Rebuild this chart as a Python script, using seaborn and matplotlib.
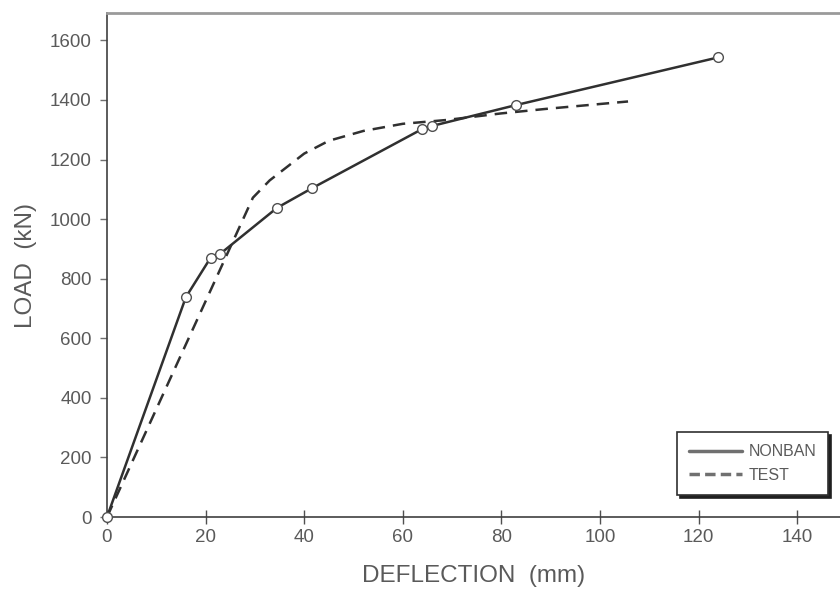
import numpy as np
import pandas as pd
import matplotlib
matplotlib.use("Agg")
import matplotlib.pyplot as plt
import seaborn as sns
from matplotlib.lines import Line2D

# ---- data ----
nonban_deflection = [0, 16, 21, 23, 34.5, 41.5, 64, 66, 83, 124]
nonban_load = [0, 738, 870, 884, 1038, 1103, 1303, 1313, 1383, 1543]

test_deflection = [0, 29.6, 33, 40, 45, 52, 60, 69, 80, 89, 105.7]
test_load = [0, 1072, 1130, 1220, 1263, 1296, 1320, 1333, 1355, 1370, 1395]

x_ticks = [0, 20, 40, 60, 80, 100, 120, 140]
y_ticks = [0, 200, 400, 600, 800, 1000, 1200, 1400, 1600]
series_names = ["NONBAN", "TEST"]

df_nonban = pd.DataFrame({"DEFLECTION": nonban_deflection, "LOAD": nonban_load})
df_test = pd.DataFrame({"DEFLECTION": test_deflection, "LOAD": test_load})

sns.set_theme(style="white")
plt.rcParams["font.family"] = ["Liberation Sans", "DejaVu Sans"]

text_col = "#5a5a5a"
line_col = "#303030"

fig = plt.figure(figsize=(8.4, 5.92), dpi=100)
ax = fig.add_axes([107 / 840, (592 - 517) / 592, (840 - 107) / 840, (517 - 13) / 592])

sns.lineplot(data=df_test, x="DEFLECTION", y="LOAD", ax=ax, color=line_col,
             linewidth=1.8, dashes=False, sort=False, linestyle=(0, (5, 3.2)))
sns.lineplot(data=df_nonban, x="DEFLECTION", y="LOAD", ax=ax, color=line_col,
             linewidth=1.8, marker="o", markersize=7, markerfacecolor="white",
             markeredgecolor="#505050", markeredgewidth=1.0, sort=False,
             clip_on=False, zorder=5)

ax.set_xlim(0, 148.7)
ax.set_ylim(0, 1692)
ax.set_xticks(x_ticks)
ax.set_yticks(y_ticks)
ax.set_xticklabels([str(v) for v in x_ticks])
ax.set_yticklabels([str(v) for v in y_ticks])

for side in ["left", "bottom", "top"]:
    ax.spines[side].set_visible(True)
    ax.spines[side].set_color("#404040")
    ax.spines[side].set_linewidth(1.2)
    ax.spines[side].set_zorder(2)
ax.spines["top"].set_color("#9a9a9a")
ax.spines["top"].set_linewidth(2.0)
ax.spines["right"].set_visible(False)

ax.tick_params(axis="x", direction="inout", length=10, width=1.0, colors="#505050",
               labelcolor=text_col, labelsize=13.5, pad=4)
ax.tick_params(axis="y", direction="out", length=5, width=1.0, colors="#707070",
               labelcolor=text_col, labelsize=13.5, pad=6)
ax.tick_params(bottom=True, left=True)

ax.set_xlabel("DEFLECTION  (mm)", fontsize=17.5, color=text_col, labelpad=13)
ax.set_ylabel("LOAD  (kN)", fontsize=17.5, color=text_col, labelpad=9)

handles = [Line2D([0], [0], color="#707070", linewidth=2.5),
           Line2D([0], [0], color="#707070", linewidth=2.5, linestyle=(0, (3, 1.5)))]
leg = ax.legend(handles, series_names, loc="lower right",
                bbox_to_anchor=(828 / 840, (592 - 495) / 592),
                bbox_transform=fig.transFigure, frameon=True, fancybox=False,
                shadow={"ox": 2, "oy": -2, "color": "#202020", "alpha": 1.0},
                fontsize=11.5, handlelength=3.3, borderpad=0.75, labelspacing=0.55,
                handletextpad=0.4, borderaxespad=0)
leg.get_frame().set_edgecolor("#303030")
leg.get_frame().set_linewidth(1.2)
leg.set_zorder(10)
for t in leg.get_texts():
    t.set_color(text_col)

fig.savefig("out.png", dpi=100, facecolor="white")
